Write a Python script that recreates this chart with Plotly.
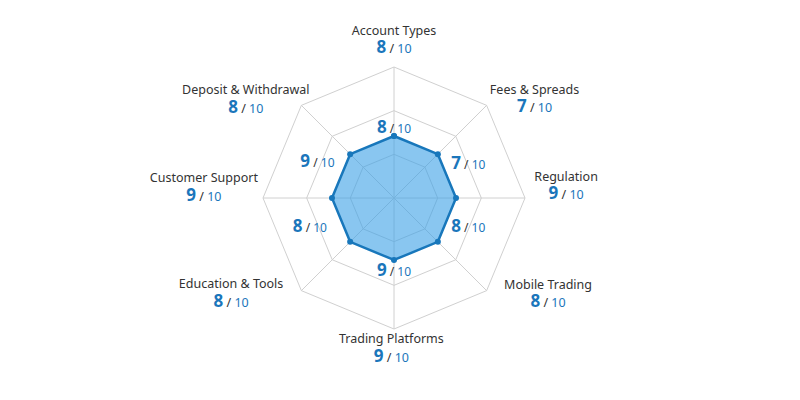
import plotly.graph_objects as go

# ---- data ----
categories = ["Account Types", "Fees & Spreads", "Regulation", "Mobile Trading",
              "Trading Platforms", "Education & Tools", "Customer Support",
              "Deposit & Withdrawal"]
scores = [8, 7, 9, 8, 9, 8, 9, 8]
max_score = 10
# radius at which the shape is drawn (all vertices sit on the same ring)
shape_r = [1.42, 1.42, 1.42, 1.42, 1.42, 1.42, 1.42, 1.42]
# small score labels drawn next to the shape
inner_scores = [8, 7, 8, 9, 8, 9]

# ---- label placement (polar coordinates on the overlay axis) ----
inner_r = [1.56, 1.85, 1.84, 1.72, 2.05, 1.92]
inner_theta = [0, 67, 112.5, 180, 250, 294]
outer_r = [3.60, 3.93, 3.95, 4.16, 3.46, 4.33, 4.36, 4.07]
outer_theta = [0, 55, 86.3, 122, 181, 239.5, 273, 303.5]

BLUE = "#1b76bb"
DARK = "#333333"
FONT = "Noto Sans, Open Sans, sans-serif"

# geometry: grid circle radius 131 px centred at (394, 198) px
R_PX = 131.0
R2_PX = 196.0
CX, CY = 394.0, 198.0
W, H = 800.0, 400.0
R_MAX = 3.0
R2_MAX = R_MAX * R2_PX / R_PX


def domain(rpx):
    return dict(x=[(CX - rpx) / W, (CX + rpx) / W],
                y=[(H - CY - rpx) / H, (H - CY + rpx) / H])


def score_html(v, big=17, small=12.5):
    return (f"<b><span style='font-size:{big}px;color:{BLUE}'>{v}</span></b>"
            f"<span style='font-size:{small}px;color:{DARK}'> / </span>"
            f"<span style='font-size:{small}px;color:{BLUE}'>{max_score}</span>")


outer_text = [f"<span style='font-size:12.5px;color:{DARK}'>{c}</span><br>{score_html(s)}"
              for c, s in zip(categories, scores)]
inner_text = [score_html(s, 17, 12) for s in inner_scores]

fig = go.Figure()

fig.add_trace(go.Scatterpolar(
    r=shape_r + shape_r[:1],
    theta=categories + categories[:1],
    mode="lines+markers",
    fill="toself",
    fillcolor="rgba(58,160,230,0.6)",
    line=dict(color="#1877bb", width=2.5),
    marker=dict(color="#1877bb", size=6),
    hoverinfo="skip",
    subplot="polar",
))

fig.add_trace(go.Scatterpolar(
    r=inner_r, theta=inner_theta, mode="text", text=inner_text,
    textposition="middle center", textfont=dict(family=FONT, size=12, color=BLUE),
    cliponaxis=False, hoverinfo="skip", subplot="polar2",
))

fig.add_trace(go.Scatterpolar(
    r=outer_r, theta=outer_theta, mode="text", text=outer_text,
    textposition="middle center", textfont=dict(family=FONT, size=14, color=DARK),
    cliponaxis=False, hoverinfo="skip", subplot="polar2",
))

fig.update_layout(
    width=800, height=400,
    margin=dict(l=0, r=0, t=0, b=0),
    paper_bgcolor="white",
    showlegend=False,
    font=dict(family=FONT, color=DARK),
    polar=dict(
        domain=domain(R_PX),
        gridshape="linear",
        bgcolor="white",
        radialaxis=dict(range=[0, R_MAX], tickvals=[1, 2, 3], showticklabels=False,
                        ticks="", showline=False, gridcolor="#d0d0d0", gridwidth=1),
        angularaxis=dict(rotation=90, direction="clockwise", showticklabels=False,
                         ticks="", gridcolor="#d0d0d0", linecolor="#d0d0d0",
                         linewidth=1),
    ),
    polar2=dict(
        domain=domain(R2_PX),
        bgcolor="rgba(0,0,0,0)",
        radialaxis=dict(range=[0, R2_MAX], visible=False),
        angularaxis=dict(type="linear", rotation=90, direction="clockwise",
                         visible=False, thetaunit="degrees"),
    ),
)

fig.write_html("out.html")
